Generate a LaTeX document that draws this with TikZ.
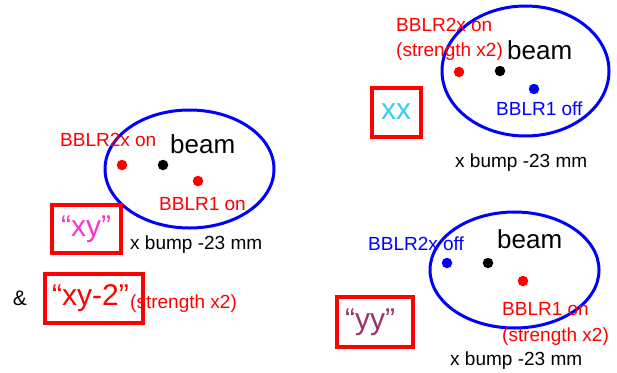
\documentclass[tikz,border=0pt]{standalone}
\usepackage{fontspec}
\setmainfont{Liberation Sans}
\usetikzlibrary{shapes.geometric}
\definecolor{cblue}{HTML}{0000FF}
\definecolor{cred}{HTML}{FF0000}
\definecolor{cmag}{HTML}{FF33CC}
\definecolor{ccyan}{HTML}{33CCFF}
\definecolor{cplum}{HTML}{993366}
\tikzset{
  beamring/.style={draw=cblue, line width=3pt, ellipse, inner sep=0pt},
  dotc/.style={circle, inner sep=0pt, minimum size=10.5pt},
  lbl/.style={inner sep=0pt, font=\fontsize{19}{22}\selectfont, anchor=west},
  beamtxt/.style={inner sep=0pt, font=\fontsize{26}{30}\selectfont, anchor=west},
  casebox/.style={draw=cred, line width=3.2pt, inner sep=0pt},
  casetxt/.style={inner sep=0pt, font=\fontsize{30}{34}\selectfont},
}
\begin{document}
\begin{tikzpicture}[x=1pt,y=-1pt]
\useasboundingbox (0,0) rectangle (617,372);
% left ellipse
\node[beamring, minimum width=169pt, minimum height=118pt] (e1) at (189.5,169) {};
\node[dotc, fill=cred] (d1a) at (122,165) {};
\node[dotc, fill=black] (d1b) at (163,165) {};
\node[dotc, fill=cred] (d1c) at (198,181) {};
\node[lbl, text=cred] (t1a) at (60,140) {BBLR2x on};
\node[beamtxt] (t1b) at (170,144) {beam};
\node[lbl, text=cred] (t1c) at (159,204) {BBLR1 on};
\node[casebox, minimum width=69pt, minimum height=48pt] (b1) at (86.5,229) {};
\node[casetxt, text=cmag] (c1) at (86,229) {“xy”};
\node[lbl] (x1) at (130,245) {x bump -23 mm};
\node[inner sep=0pt, font=\fontsize{21}{24}\selectfont] (amp) at (20,298) {\&};
\node[casebox, minimum width=98pt, minimum height=49pt] (b2) at (94,298.5) {};
\node[casetxt, text=cred] (c2) at (90.5,298) {“xy-2”};
\node[lbl, text=cred] (s2) at (130,304) {(strength x2)};
% right top
\node[beamring, minimum width=167pt, minimum height=130pt] (e2) at (525.5,71) {};
\node[dotc, fill=cred] (d2a) at (459,72) {};
\node[dotc, fill=black] (d2b) at (500,71) {};
\node[dotc, fill=cblue] (d2c) at (534,89) {};
\node[lbl, text=cred] (t2a) at (396,25) {BBLR2x on};
\node[lbl, text=cred] (t2s) at (396,52) {(strength x2)};
\node[beamtxt] (t2b) at (507,50) {beam};
\node[lbl, text=cblue] (t2c) at (496,109) {BBLR1 off};
\node[casebox, minimum width=49pt, minimum height=49pt] (b3) at (396.5,112.5) {};
\node[casetxt, text=ccyan] (c3) at (396,112) {xx};
\node[lbl] (x2) at (455,163) {x bump -23 mm};
% right bottom
\node[beamring, minimum width=169pt, minimum height=116pt] (e3) at (514.5,270) {};
\node[dotc, fill=cblue] (d3a) at (447,263) {};
\node[dotc, fill=black] (d3b) at (488,263) {};
\node[dotc, fill=cred] (d3c) at (523,281) {};
\node[lbl, text=cblue] (t3a) at (368,244) {BBLR2x off};
\node[beamtxt] (t3b) at (497,239) {beam};
\node[lbl, text=cred] (t3c) at (502,309) {BBLR1 on};
\node[lbl, text=cred] (t3s) at (502,337) {(strength x2)};
\node[casebox, minimum width=76pt, minimum height=50pt] (b4) at (375,322) {};
\node[casetxt, text=cplum] (c4) at (370,322) {“yy”};
\node[lbl] (x3) at (450,361) {x bump -23 mm};
\end{tikzpicture}
\end{document}
